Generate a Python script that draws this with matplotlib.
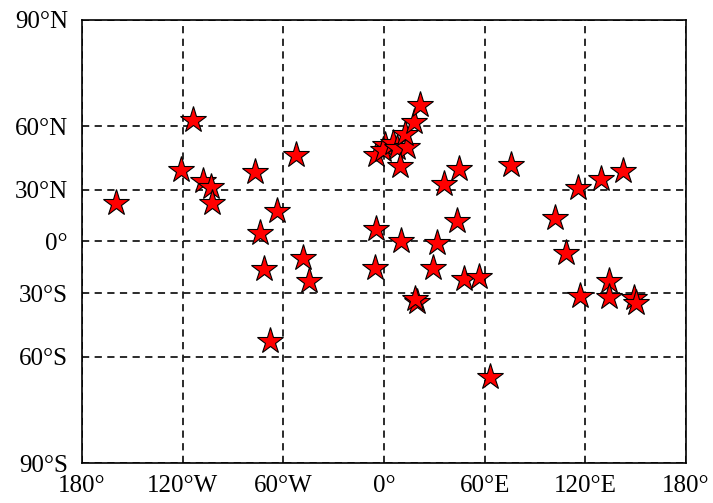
import numpy as np
import matplotlib
matplotlib.use("Agg")
import matplotlib.pyplot as plt

plt.rcParams['font.family'] = ['Liberation Serif', 'DejaVu Serif']

lon = [-159.5, -114.0, -121.0, -107.7, -103.1, -102.3, -76.9, -52.5, -64.0, -73.9,
       -71.3, -48.1, -44.5, -67.9, -4.8, -5.4, -4.8, 0.6, -0.6, 5.5,
       7.5, 13.5, 12.4, 17.7, 21.6, 9.5, 10.2, 19.4, 18.5, 29.0,
       31.5, 35.5, 44.9, 43.5, 47.5, 56.4, 63.4, 75.8, 101.7, 108.3,
       115.5, 129.2, 142.6, 117.0, 134.4, 134.4, 149.0, 150.2]
lat = [22.4, 62.6, 40.3, 34.8, 31.2, 22.4, 39.3, 47.8, 18.0, 4.9,
       -16.4, -10.0, -23.0, -53.6, 7.3, -15.8, 47.5, 52.2, 49.9, 53.0,
       50.6, 51.3, 57.0, 61.6, 68.0, 42.1, 0.2, -34.5, -33.2, -15.7,
       -0.8, 33.0, 40.6, 11.9, -22.0, -21.1, -67.8, 43.0, 14.0, -7.0,
       31.0, 35.8, 39.8, -31.2, -23.4, -32.0, -32.6, -35.0]

xticks = [-180, -120, -60, 0, 60, 120, 180]
xlabels = ['180°', '120°W', '60°W', '0°', '60°E', '120°E', '180°']
yticks = [-90, -60, -30, 0, 30, 60, 90]
ylabels = ['90°S', '60°S', '30°S', '0°', '30°N', '60°N', '90°N']


def miller_fwd(v):
    v = np.clip(np.asarray(v, dtype=float), -110, 110)
    return 1.25 * np.log(np.tan(np.pi / 4 + 0.4 * np.radians(v)))


def miller_inv(y):
    y = np.asarray(y, dtype=float)
    return np.degrees((np.arctan(np.exp(y / 1.25)) - np.pi / 4) / 0.4)


fig = plt.figure(figsize=(7.13, 5.03), dpi=100)
ax = fig.add_axes([82 / 713, 40 / 503, 604 / 713, 443 / 503])
ax.set_yscale('function', functions=(miller_fwd, miller_inv))
ax.set_xlim(-180, 180)
ax.set_ylim(-90, 90)

ax.set_xticks(xticks)
ax.set_xticklabels(xlabels)
ax.set_yticks(yticks)
ax.set_yticklabels(ylabels)
ax.minorticks_off()
ax.tick_params(axis='both', length=0, labelsize=18, colors='black')
ax.tick_params(axis='x', pad=9)
ax.tick_params(axis='y', pad=10)

ax.set_axisbelow(True)
ax.grid(True, color='#1a1a1a', linestyle=(0, (4, 3)), linewidth=1.3)
for s in ax.spines.values():
    s.set_linewidth(1.2)
    s.set_color('black')
    s.set_zorder(5)

ax.plot(lon, lat, linestyle='none', marker='*', markersize=20,
        markerfacecolor='red', markeredgecolor='black', markeredgewidth=0.8,
        zorder=3)

fig.savefig('out.png', dpi=100)
